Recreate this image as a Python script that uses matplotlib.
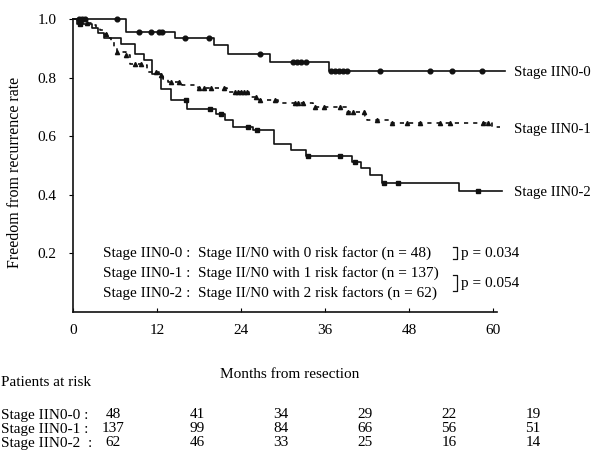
import numpy as np
import matplotlib
matplotlib.use("Agg")
import matplotlib.pyplot as plt
from matplotlib.lines import Line2D
from matplotlib import transforms

plt.rcParams['font.family'] = ['Liberation Serif', 'DejaVu Serif']

# Kaplan-Meier steps (months, freedom from recurrence)
t0 = [0, 7.6, 14.6, 20.1, 22.2, 28.1, 36.6, 61.7]
s0 = [1.0, 0.956, 0.935, 0.911, 0.880, 0.853, 0.823, 0.823]
c0 = [0.9, 1.3, 1.7, 6.3, 9.4, 11.1, 12.3, 12.7, 16.0, 19.4, 26.7, 31.4, 32.0,
      32.6, 33.3, 36.8, 37.4, 38.0, 38.6, 39.1, 43.9, 51.0, 54.1, 58.4]

t1 = [0, 0.5, 1.5, 2.8, 3.3, 3.8, 4.4, 4.9, 5.4, 5.9, 6.3, 7.5, 8.2, 10.0, 10.6,
      12.3, 12.8, 13.5, 15.5, 17.8, 22.0, 25.1, 26.5, 29.3, 34.3, 39.1, 41.7,
      42.0, 45.3, 59.8, 61.0]
s1 = [1.0, 0.993, 0.985, 0.978, 0.970, 0.963, 0.948, 0.934, 0.922, 0.905, 0.887,
      0.876, 0.847, 0.842, 0.819, 0.808, 0.796, 0.785, 0.775, 0.765, 0.752,
      0.733, 0.724, 0.714, 0.700, 0.683, 0.670, 0.655, 0.644, 0.630, 0.630]
c1 = [0.8, 1.2, 2.0, 4.7, 6.3, 7.5, 8.9, 9.7, 11.8, 12.5, 14.0, 15.1, 18.0, 18.7,
      19.7, 21.6, 23.2, 23.6, 24.0, 24.4, 24.8, 26.2, 26.7, 28.9, 31.7, 32.2,
      32.9, 34.5, 35.8, 38.1, 39.3, 40.0, 41.5, 43.4, 45.5, 47.7, 49.6, 52.4,
      53.9, 58.6, 59.3]

t2 = [0, 0.5, 2.7, 3.5, 4.4, 6.9, 8.9, 10.1, 11.3, 12.5, 14.0, 16.3, 20.4, 21.7,
      22.9, 25.7, 28.7, 31.2, 33.3, 39.8, 41.2, 42.4, 44.2, 55.2, 61.3]
s2 = [1.0, 0.984, 0.968, 0.952, 0.935, 0.916, 0.882, 0.859, 0.813, 0.762, 0.722,
      0.694, 0.676, 0.655, 0.632, 0.621, 0.572, 0.553, 0.534, 0.513, 0.490,
      0.468, 0.439, 0.413, 0.413]
c2 = [1.0, 16.1, 19.5, 21.2, 25.0, 26.3, 33.6, 38.2, 40.3, 44.4, 46.4, 57.9]

groups = ['Stage IIN0-0', 'Stage IIN0-1', 'Stage IIN0-2']
descr = ['Stage II/N0 with 0 risk factor (n = 48)',
         'Stage II/N0 with 1 risk factor (n = 137)',
         'Stage II/N0 with 2 risk factors (n = 62)']
risk_times = [0, 12, 24, 36, 48, 60]
at_risk = [[48, 41, 34, 29, 22, 19],
           [137, 99, 84, 66, 56, 51],
           [62, 46, 33, 25, 16, 14]]


def censor_y(t, s, c):
    idx = np.searchsorted(t, c, side='right') - 1
    return np.array(s)[idx]


W, H = 597, 450
fig = plt.figure(figsize=(W / 100, H / 100), dpi=100)
ax = fig.add_axes([73 / W, 1 - 312 / H, 434 / W, 293 / H])

k = '#111111'
ax.step(t0, s0, where='post', color=k, lw=1.2, clip_on=False)
ax.plot(c0, censor_y(t0, s0, c0), 'o', color=k, ms=3.4, clip_on=False)
ax.step(t1, s1, where='post', color=k, lw=1.2, ls=(0, (2.5, 3)), clip_on=False)
ax.plot(c1, censor_y(t1, s1, c1), '^', color=k, ms=3, clip_on=False)
ax.step(t2, s2, where='post', color=k, lw=1.2, clip_on=False)
ax.plot(c2, censor_y(t2, s2, c2), 's', color=k, ms=2.6, clip_on=False)

ax.set_xlim(0, 62)
ax.set_ylim(0, 1.0)
ax.spines['top'].set_visible(False)
ax.spines['right'].set_visible(False)
ax.spines['bottom'].set_bounds(0, 60.5)
for sp in ('left', 'bottom'):
    ax.spines[sp].set_linewidth(1.2)
    ax.spines[sp].set_color(k)
ax.set_xticks(risk_times)
ax.set_yticks([0.2, 0.4, 0.6, 0.8, 1.0])
ax.set_yticklabels(['0.2', '0.4', '0.6', '0.8', '1.0'])
ax.tick_params(axis='x', direction='in', length=3, pad=9, labelsize=11)
ax.tick_params(axis='y', direction='out', length=3, pad=9, labelsize=11)

ax.set_ylabel('Freedom from recurrence rate', fontsize=11.5, va='center')
ax.yaxis.set_label_coords(-0.134, 0.478)
ax.set_xlabel('Months from resection', fontsize=11)
ax.xaxis.set_label_coords(0.5, -0.19)

# curve labels
for g, y in zip(groups, [s0[-1], s1[-1], s2[-1]]):
    ax.text(63.0, y - 0.006, g, fontsize=10.6, va='center', ha='left', clip_on=False)

# legend block
for i, (g, d) in enumerate(zip(groups, descr)):
    yy = 1 - (253 + 20 * i) / H
    fig.text(103 / W, yy, g + ' :', fontsize=11, va='center')
    fig.text(198 / W, yy, d, fontsize=11, va='center')

tf = fig.transFigure
def bracket(x, y1, y2):
    xs = [(x - 4) / W, x / W, x / W, (x - 4) / W]
    ys = [1 - y1 / H, 1 - y1 / H, 1 - y2 / H, 1 - y2 / H]
    fig.add_artist(Line2D(xs, ys, transform=tf, color=k, lw=0.9))

bracket(457, 247, 259)
bracket(457, 275, 291)
fig.text(461 / W, 1 - 253 / H, 'p = 0.034', fontsize=11, va='center')
fig.text(461 / W, 1 - 283 / H, 'p = 0.054', fontsize=11, va='center')

# numbers at risk
fig.text(1 / W, 1 - 383 / H, 'Patients at risk', fontsize=11, va='center')
blend = transforms.blended_transform_factory(ax.transData, fig.transFigure)
row_y = [415, 429, 443]
for g, counts, py in zip(groups, at_risk, row_y):
    lab = g + (' :' if g != 'Stage IIN0-2' else '  :')
    fig.text(1 / W, 1 - py / H, lab, fontsize=11, va='center')
    for t, n in zip(risk_times, counts):
        ax.text(t + 5.7, 1 - py / H, str(n), transform=blend, fontsize=11,
                ha='center', va='center', clip_on=False)

fig.savefig('out.png', dpi=100)
